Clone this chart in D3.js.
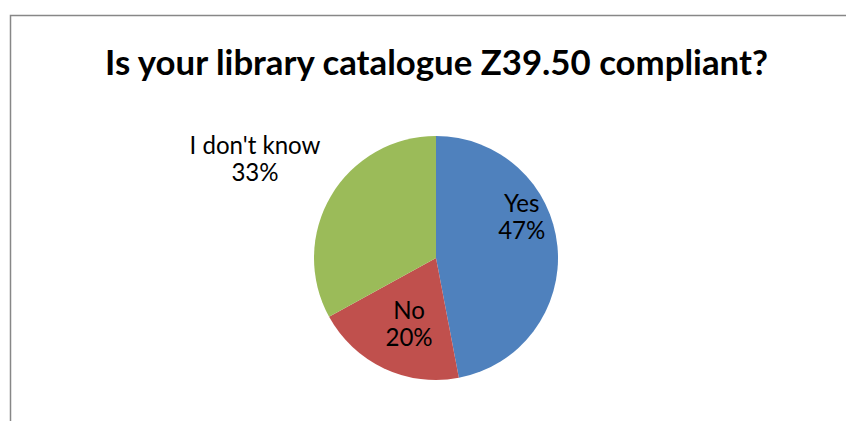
<!DOCTYPE html>
<html>
<head>
<meta charset="utf-8">
<script src="https://cdn.jsdelivr.net/npm/d3@7"></script>
<style>
  html, body { margin: 0; padding: 0; background: #fff; }
  svg { display: block; }
</style>
</head>
<body>
<svg id="chart" width="846" height="421"></svg>
<script>
// Survey answers
const categories = ["Yes", "No", "I don't know"];
const values = [47, 20, 33];
const colors = ["#4F81BD", "#C0504D", "#9BBB59"];
const titleText = "Is your library catalogue Z39.50 compliant?";

const W = 846, H = 421;
const svg = d3.select("#chart");

// chart frame (runs off the right and bottom edges)
svg.append("rect")
  .attr("x", 10.5).attr("y", 15.5)
  .attr("width", 900).attr("height", 500)
  .attr("fill", "none")
  .attr("stroke", "#878787")
  .attr("stroke-width", 1.5);

// title, sized to span its box
const title = svg.append("text")
  .attr("x", 436.5).attr("y", 75)
  .attr("text-anchor", "middle")
  .attr("font-family", "Lato, 'Open Sans', sans-serif")
  .attr("font-weight", "bold")
  .attr("font-size", 32)
  .attr("fill", "#000")
  .text(titleText);
{
  const w = title.node().getComputedTextLength();
  title.attr("font-size", 32 * 663 / w);
}

const cx = 436, cy = 258, r = 122;
const g = svg.append("g").attr("transform", `translate(${cx},${cy})`);

const pie = d3.pie().sort(null).value(d => d.value);
const arcs = pie(categories.map((c, i) => ({ name: c, value: values[i], color: colors[i] })));
const arc = d3.arc().innerRadius(0).outerRadius(r);

g.selectAll("path.slice")
  .data(arcs)
  .join("path")
  .attr("class", "slice")
  .attr("d", arc)
  .attr("fill", d => d.data.color);

// label placement: distance from centre and angle (degrees, clockwise from 12 o'clock)
const total = d3.sum(values);
const labelLayout = [
  { radius: 95, angle: 64.5 },
  { radius: 72, angle: 202 },
  { radius: 206, angle: 298.5 }
];

// label font size fitted from the widest label
const probe = svg.append("text")
  .attr("font-family", "Lato, 'Open Sans', sans-serif")
  .attr("font-size", 24)
  .text(categories[2]);
const labelSize = 24 * 131 / probe.node().getComputedTextLength();
probe.remove();

const lineGap = 27;
g.selectAll("text.lbl")
  .data(arcs)
  .join("text")
  .attr("class", "lbl")
  .attr("text-anchor", "middle")
  .attr("font-family", "Lato, 'Open Sans', sans-serif")
  .attr("font-size", labelSize)
  .attr("fill", "#000")
  .each(function(d, i) {
    const L = labelLayout[i];
    const a = L.angle * Math.PI / 180;
    const x = L.radius * Math.sin(a);
    const y = -L.radius * Math.cos(a);
    const t = d3.select(this);
    const pct = Math.round(d.data.value / total * 100) + "%";
    t.append("tspan").attr("x", x).attr("y", y - 5.5).text(d.data.name);
    t.append("tspan").attr("x", x).attr("y", y - 5.5 + lineGap).text(pct);
  });
</script>
</body>
</html>
